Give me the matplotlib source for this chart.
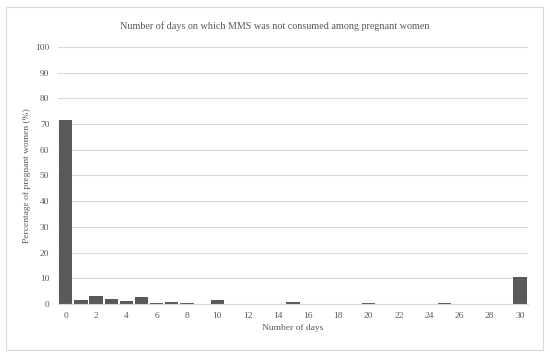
import matplotlib.pyplot as plt
from matplotlib.patches import Rectangle

plt.rcParams['font.family'] = ['Liberation Serif', 'DejaVu Serif']

days = list(range(31))
percent = [71.5, 1.4, 3.1, 2.0, 1.2, 2.7, 0.5, 0.8, 0.5, 0.0,
           1.5, 0.0, 0.0, 0.0, 0.0, 0.8, 0.0, 0.0, 0.0, 0.0,
           0.5, 0.0, 0.0, 0.0, 0.0, 0.2, 0.0, 0.0, 0.0, 0.0,
           10.4]
x_ticks = list(range(0, 31, 2))
y_ticks = list(range(0, 101, 10))

fig = plt.figure(figsize=(5.5, 3.58), dpi=100)
ax = fig.add_axes([0.105, 0.151, 0.855, 0.718])

# light frame round the whole chart
fig.patches.append(Rectangle((6 / 550, 1 - 350 / 358), 537 / 550, 343 / 358,
                             transform=fig.transFigure, fill=False,
                             edgecolor='#d9d9d9', linewidth=0.8))

ax.bar(days, percent, width=0.88, color='#595959', zorder=3)

ax.set_xlim(-0.53, 30.53)
ax.set_ylim(0, 100)
ax.set_xticks(x_ticks)
ax.set_yticks(y_ticks)
ax.tick_params(axis='both', length=0, labelsize=6.8, labelcolor='#595959', pad=6)
ax.grid(axis='y', color='#d9d9d9', linewidth=0.8, zorder=0)
for side in ['left', 'right', 'top']:
    ax.spines[side].set_visible(False)
ax.spines['bottom'].set_color('#d9d9d9')
ax.spines['bottom'].set_linewidth(0.8)
ax.spines['bottom'].set_zorder(4)

ax.set_xlabel('Number of days', fontsize=6.8, color='#595959', labelpad=3)
ax.set_ylabel('Percentage of pregnant women (%)', fontsize=6.8, color='#595959', labelpad=3)
fig.text(0.5, 1 - 26 / 358, 'Number of days on which MMS was not consumed among pregnant women',
         ha='center', va='center', fontsize=7.3, color='#595959')

fig.savefig('out.png', dpi=100)
